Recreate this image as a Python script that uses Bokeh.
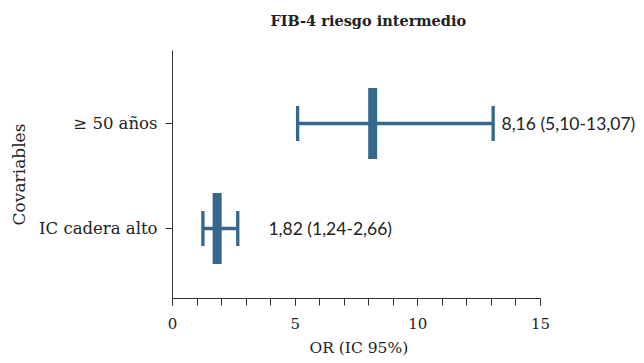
from bokeh.plotting import figure
from bokeh.models import Range1d, FixedTicker, Label, Title
from bokeh.embed import file_html
from bokeh.resources import INLINE

categories = ["IC cadera alto", "≥ 50 años"]
cat_pos = [1, 2]
or_vals = [1.82, 8.16]
ci_low = [1.24, 5.10]
ci_high = [2.66, 13.07]
ann_text = ["1,82 (1,24-2,66)", "8,16 (5,10-13,07)"]
ann_x = [3.91, 13.41]
x_ticks = [0, 5, 10, 15]
x_minor = list(range(0, 16))

COLOR = "#35688a"
SERIF = "DejaVu Serif"

p = figure(width=644, height=363, output_backend="svg", toolbar_location=None,
           x_range=Range1d(0, 19.24), y_range=Range1d(0.333, 2.695),
           min_border_left=172, min_border_right=0, min_border_top=50, min_border_bottom=65)
p.outline_line_color = None
p.grid.visible = False

spacer = Title(text=" ", text_font_size="8px", standoff=6)
p.add_layout(spacer, "above")
main_title = Title(text="FIB-4 riesgo intermedio", align="left", offset=98, standoff=10,
                   text_font=SERIF, text_font_style="bold", text_font_size="14.5px",
                   text_color="#222222")
p.add_layout(main_title, "above")

# whiskers
p.segment(x0=ci_low, y0=cat_pos, x1=ci_high, y1=cat_pos, line_color=COLOR, line_width=3.5)
p.rect(x=ci_low, y=cat_pos, width=3.3, height=35, width_units="screen", height_units="screen",
       fill_color=COLOR, line_color=None)
p.rect(x=ci_high, y=cat_pos, width=3.3, height=35, width_units="screen", height_units="screen",
       fill_color=COLOR, line_color=None)
p.rect(x=or_vals, y=cat_pos, width=9, height=71, width_units="screen", height_units="screen",
       fill_color=COLOR, line_color=None)

for i in range(len(categories)):
    p.add_layout(Label(x=ann_x[i], y=cat_pos[i], text=ann_text[i],
                       text_baseline="middle", text_align="left",
                       text_font="Lato", text_font_size="17.5px",
                       text_color="#222222"))

p.xaxis.ticker = FixedTicker(ticks=x_ticks, minor_ticks=x_minor)
p.xaxis.bounds = (x_ticks[0], x_ticks[-1])
p.yaxis.ticker = FixedTicker(ticks=cat_pos, minor_ticks=[])
p.yaxis.major_label_overrides = {cat_pos[i]: categories[i] for i in range(len(categories))}
p.yaxis.axis_label = "Covariables"

for ax in (p.xaxis, p.yaxis):
    ax.axis_line_color = "#333333"
    ax.major_tick_line_color = "#333333"
    ax.minor_tick_line_color = "#333333"
    ax.major_tick_in = 0
    ax.major_tick_out = 7
    ax.minor_tick_in = 0
    ax.minor_tick_out = 7
    ax.major_label_text_font = SERIF
    ax.major_label_text_color = "#222222"
    ax.axis_label_text_font = SERIF
    ax.axis_label_text_font_style = "normal"
    ax.axis_label_text_color = "#222222"

p.yaxis.major_label_text_font_size = "16.5px"
p.xaxis.major_label_text_font_size = "15px"
p.yaxis.axis_label_text_font_size = "17px"
p.yaxis.major_label_standoff = 8
p.xaxis.major_label_standoff = 12
p.yaxis.axis_label_standoff = 7

xlabel = Title(text="OR (IC 95%)", align="left", offset=137, standoff=10,
               text_font=SERIF, text_font_size="15.5px", text_font_style="normal",
               text_color="#222222")
p.add_layout(xlabel, "below")

open("out.html", "w").write(file_html(p, INLINE))
